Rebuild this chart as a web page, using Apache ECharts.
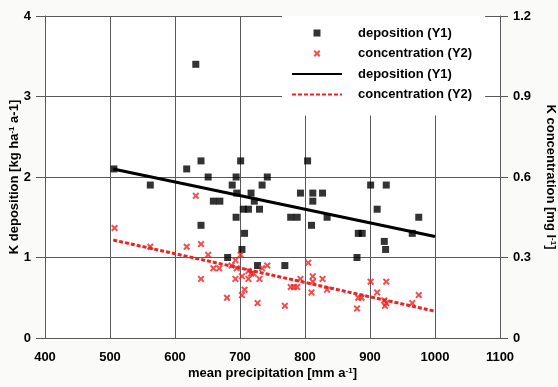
<!DOCTYPE html>
<html>
<head>
<meta charset="utf-8">
<script src="https://cdn.jsdelivr.net/npm/echarts@6/dist/echarts.min.js"></script>
<style>html,body{margin:0;padding:0;background:#fafaf8;}#c{width:558px;height:387px;}</style>
</head>
<body>
<div id="c"></div>
<script>
// deposition [kg ha-1 a-1] vs mean precipitation [mm a-1]
const depX = [506,562,618,632,640,651,640,659,669,681,688,694,695,694,701,703,705,713,707,717,722,727,730,734,742,769,778,788,793,804,810,812,812,827,834,880,882,888,901,911,922,924,925,965,975];
const depY = [2.1,1.9,2.1,3.4,2.2,2.0,1.4,1.7,1.7,1.0,1.9,2.0,1.8,1.5,2.2,1.1,1.6,1.6,1.3,1.8,1.7,0.9,1.6,1.9,2.0,0.9,1.5,1.5,1.8,2.2,1.4,1.8,1.7,1.8,1.5,1.0,1.3,1.3,1.9,1.6,1.2,1.1,1.9,1.3,1.5];
// concentration [mg l-1] vs mean precipitation
const conX = [507,562,618,632,640,640,651,659,668,680,687,693,695,693,701,703,703,707,713,713,717,721,727,730,734,742,769,778,783,788,793,805,810,812,812,827,834,880,882,887,901,911,922,923,925,925,965,975];
const conY = [0.41,0.34,0.34,0.53,0.35,0.22,0.31,0.26,0.26,0.15,0.27,0.29,0.26,0.22,0.31,0.23,0.16,0.18,0.25,0.22,0.24,0.24,0.13,0.22,0.26,0.27,0.12,0.19,0.19,0.19,0.22,0.28,0.17,0.23,0.21,0.22,0.18,0.11,0.15,0.15,0.21,0.17,0.14,0.12,0.21,0.13,0.13,0.16];
// linear trend lines (end points)
const depTrendX = [505, 1000];
const depTrendY = [2.10, 1.26];
const conTrendX = [505, 1000];
const conTrendY = [0.365, 0.10];

const xTicks = {min: 400, max: 1100, interval: 100};
const y1Ticks = {min: 0, max: 4, interval: 1};
const y2Ticks = {min: 0, max: 1.2, interval: 0.3};

const zip = (a, b) => a.map((v, i) => [v, b[i]]);
const crossPath = 'path://M0,2L2,0L5,3L8,0L10,2L7,5L10,8L8,10L5,7L2,10L0,8L3,5Z';
const squarePath = 'path://M0,0L10,0L10,10L0,10Z';
const RED = '#ee2222';
const font = 'Liberation Sans, Arial, sans-serif';
const gridColor = '#5a5a5a';
const labelStyle = {fontFamily: font, fontSize: 13, fontWeight: 'bold', color: '#000'};
const nameStyle = {fontFamily: font, fontSize: 13, fontWeight: 'bold', color: '#000',
  rich: {sup: {fontFamily: font, fontSize: 8, fontWeight: 'bold', color: '#000', verticalAlign: 'top'}}};

const chart = echarts.init(document.getElementById('c'), null, {renderer: 'canvas'});
chart.setOption({
  backgroundColor: '#fafaf8',
  animation: false,
  grid: {left: 45, right: 58, top: 16, bottom: 49, outerBoundsMode: 'none', containLabel: false,
    show: true, backgroundColor: '#fff', borderWidth: 0},
  legend: {
    left: 282, top: 16, orient: 'vertical',
    backgroundColor: '#fff',
    padding: [7, 13, 11, 9],
    itemWidth: 50, itemHeight: 7, itemGap: 0.5,
    textStyle: {fontFamily: font, fontSize: 13, fontWeight: 'bold', color: '#000', lineHeight: 20, padding: [0, 0, 0, 11]},
    formatter: n => n.trim(),
    data: [
      {name: 'deposition (Y1)', icon: squarePath},
      {name: 'concentration (Y2)', icon: crossPath},
      {name: 'deposition (Y1) ', itemStyle: {color: 'transparent', opacity: 0, borderWidth: 0}},
      {name: 'concentration (Y2) ', itemStyle: {color: 'transparent', opacity: 0, borderWidth: 0}}
    ]
  },
  xAxis: {
    type: 'value', min: xTicks.min, max: xTicks.max, interval: xTicks.interval,
    name: 'mean precipitation [mm a{sup|-1}]', nameLocation: 'middle', nameGap: 29, nameMoveOverlap: false,
    nameTextStyle: nameStyle,
    axisLine: {show: true, lineStyle: {color: gridColor}},
    axisTick: {show: false},
    axisLabel: Object.assign({margin: 13, formatter: v => String(v)}, labelStyle),
    splitLine: {show: true, lineStyle: {color: gridColor, width: 1}}
  },
  yAxis: [{
    type: 'value', position: 'left', min: y1Ticks.min, max: y1Ticks.max, interval: y1Ticks.interval,
    name: 'K deposition [kg ha{sup|-1} a-1]', nameLocation: 'middle', nameGap: 24, nameRotate: 90, nameMoveOverlap: false,
    nameTextStyle: nameStyle,
    axisLine: {show: true, lineStyle: {color: gridColor}},
    axisTick: {show: true, inside: false, length: 9, lineStyle: {color: gridColor}},
    axisLabel: Object.assign({margin: 14, formatter: v => String(v)}, labelStyle),
    splitLine: {show: true, lineStyle: {color: gridColor, width: 1}}
  }, {
    type: 'value', position: 'right', min: y2Ticks.min, max: y2Ticks.max, interval: y2Ticks.interval,
    name: 'K concentration [mg l{sup|-1}]', nameLocation: 'middle', nameGap: 44, nameRotate: -90, nameMoveOverlap: false,
    nameTextStyle: nameStyle,
    axisLine: {show: true, lineStyle: {color: gridColor}},
    axisTick: {show: true, inside: false, length: 8, lineStyle: {color: gridColor}},
    axisLabel: Object.assign({margin: 13, formatter: v => v === 0 ? '0' : v.toFixed(1)}, labelStyle),
    splitLine: {show: false}
  }],
  series: [{
    name: 'deposition (Y1)', type: 'scatter', yAxisIndex: 0,
    symbol: squarePath, symbolSize: 7, itemStyle: {color: '#000'},
    data: zip(depX, depY), z: 3
  }, {
    name: 'concentration (Y2)', type: 'scatter', yAxisIndex: 1,
    symbol: crossPath, symbolSize: 7, itemStyle: {color: RED},
    data: zip(conX, conY), z: 3
  }, {
    name: 'deposition (Y1) ', type: 'line', yAxisIndex: 0,
    symbol: 'none', showSymbol: false, lineStyle: {color: '#000', width: 3}, itemStyle: {color: '#000'},
    data: zip(depTrendX, depTrendY), z: 4
  }, {
    name: 'concentration (Y2) ', type: 'line', yAxisIndex: 1,
    symbol: 'none', showSymbol: false, lineStyle: {color: RED, width: 3, type: [4, 2]}, itemStyle: {color: RED},
    data: zip(conTrendX, conTrendY), z: 4
  }]
});
</script>
</body>
</html>
